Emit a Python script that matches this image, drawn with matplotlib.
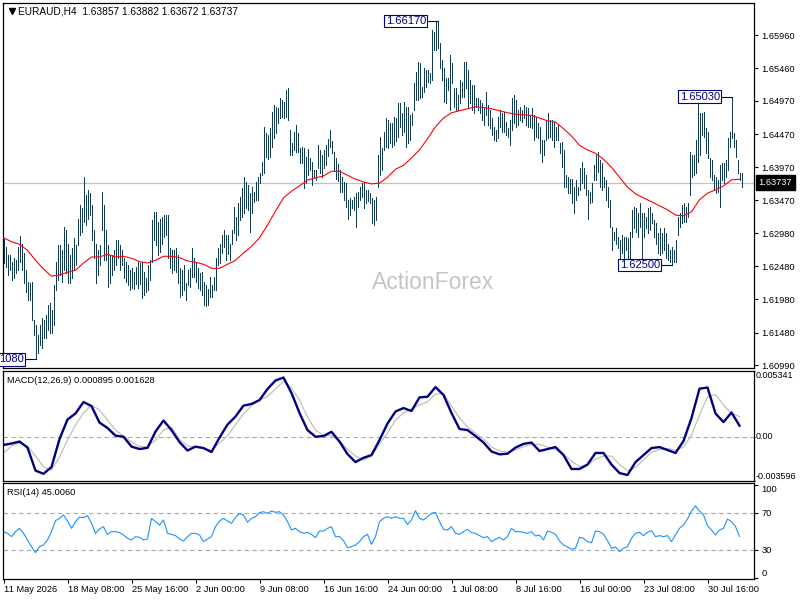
import numpy as np
import matplotlib
matplotlib.use('Agg')
import matplotlib.pyplot as plt
import matplotlib.transforms as mtransforms

plt.rcParams['font.family'] = ['Liberation Sans', 'DejaVu Sans']

# --- data ---
symbol = 'EURAUD,H4'
last_ohlc = [1.63857, 1.63882, 1.63672, 1.63737]
macd_last, signal_last, rsi_last = 0.000895, 0.001628, 45.0060

highs = [
    1.6289, 1.6277, 1.6265, 1.6265, 1.6254, 1.6260, 1.6257, 1.6277, 1.6293, 1.6282,
    1.6268, 1.6242, 1.6224, 1.6223, 1.6224, 1.6167, 1.6160, 1.6145, 1.6160, 1.6170,
    1.6167, 1.6175, 1.6190, 1.6193, 1.6182, 1.6220, 1.6254, 1.6280, 1.6280, 1.6272,
    1.6307, 1.6303, 1.6282, 1.6265, 1.6275, 1.6290, 1.6280, 1.6319, 1.6340, 1.6335,
    1.6382, 1.6355, 1.6363, 1.6358, 1.6340, 1.6303, 1.6282, 1.6272, 1.6280, 1.6360,
    1.6340, 1.6303, 1.6280, 1.6265, 1.6265, 1.6272, 1.6287, 1.6287, 1.6280, 1.6272,
    1.6260, 1.6254, 1.6250, 1.6242, 1.6245, 1.6239, 1.6247, 1.6254, 1.6253, 1.6254,
    1.6239, 1.6230, 1.6250, 1.6257, 1.6318, 1.6330, 1.6330, 1.6315, 1.6319, 1.6322,
    1.6325, 1.6325, 1.6325, 1.6275, 1.6272, 1.6272, 1.6275, 1.6265, 1.6245, 1.6242,
    1.6250, 1.6223, 1.6242, 1.6245,
    1.6275, 1.6260, 1.6253, 1.6245, 1.6238, 1.6239, 1.6224, 1.6220, 1.6214, 1.6232,
    1.6220, 1.6232, 1.6261, 1.6275, 1.6282, 1.6295, 1.6303, 1.6295, 1.6295, 1.6282,
    1.6303, 1.6337, 1.6322, 1.6343, 1.6352, 1.6366, 1.6382, 1.6375, 1.6370, 1.6358,
    1.6367, 1.6360, 1.6375, 1.6382, 1.6388, 1.6405, 1.6458, 1.6449, 1.6445, 1.6456,
    1.6480, 1.6491, 1.6488, 1.6486, 1.6501, 1.6498, 1.6495, 1.6513, 1.6516, 1.6453,
    1.6433, 1.6450, 1.6461, 1.6449, 1.6426, 1.6427, 1.6426, 1.6412, 1.6424, 1.6411,
    1.6405, 1.6393, 1.6393, 1.6430, 1.6423, 1.6415, 1.6423, 1.6430, 1.6439, 1.6453,
    1.6436, 1.6420, 1.6411, 1.6402, 1.6393, 1.6382, 1.6375, 1.6373, 1.6348, 1.6351,
    1.6348, 1.6352, 1.6358, 1.6360, 1.6367, 1.6373, 1.6375, 1.6363, 1.6363, 1.6358,
    1.6351, 1.6348, 1.6352, 1.6415,
    1.6442, 1.6426, 1.6450, 1.6471, 1.6468, 1.6464, 1.6464, 1.6473, 1.6471, 1.6494,
    1.6494, 1.6478, 1.6495, 1.6488, 1.6488, 1.6476, 1.6478, 1.6524, 1.6540, 1.6555,
    1.6554, 1.6518, 1.6546, 1.6543, 1.6543, 1.6539, 1.6604, 1.6601, 1.6617, 1.6617,
    1.6584, 1.6558, 1.6546, 1.6531, 1.6531, 1.6566, 1.6554, 1.6516, 1.6516, 1.6506,
    1.6528, 1.6525, 1.6555, 1.6555, 1.6543, 1.6528, 1.6521, 1.6521, 1.6501, 1.6501,
    1.6498, 1.6494, 1.6488, 1.6510, 1.6491, 1.6483, 1.6471, 1.6458, 1.6453, 1.6473,
    1.6483, 1.6478, 1.6480, 1.6465, 1.6456, 1.6468, 1.6501, 1.6506, 1.6498, 1.6483,
    1.6488, 1.6483, 1.6491, 1.6488, 1.6486, 1.6476, 1.6486, 1.6476, 1.6473, 1.6464,
    1.6458, 1.6438, 1.6438, 1.6468, 1.6478, 1.6468, 1.6468, 1.6465, 1.6458, 1.6461,
    1.6433, 1.6435, 1.6423, 1.6385, 1.6382, 1.6380,
    1.6380, 1.6367, 1.6378, 1.6367, 1.6396, 1.6405, 1.6396, 1.6385, 1.6363, 1.6360,
    1.6373, 1.6400, 1.6415, 1.6420, 1.6408, 1.6403, 1.6382, 1.6378, 1.6367, 1.6348,
    1.6307, 1.6299, 1.6306, 1.6292, 1.6287, 1.6295, 1.6292, 1.6292, 1.6290, 1.6299,
    1.6333, 1.6337, 1.6336, 1.6328, 1.6343, 1.6328, 1.6328, 1.6322, 1.6336, 1.6337,
    1.6328, 1.6318, 1.6313, 1.6298, 1.6306, 1.6298, 1.6306, 1.6298, 1.6282, 1.6272,
    1.6277, 1.6272, 1.6287, 1.6322, 1.6328, 1.6340, 1.6343, 1.6337, 1.6343, 1.6420,
    1.6415, 1.6415, 1.6438, 1.6494, 1.6478, 1.6478, 1.6480, 1.6456, 1.6450, 1.6411,
    1.6408, 1.6385, 1.6382, 1.6378, 1.6400, 1.6403, 1.6403, 1.6408, 1.6441, 1.6450,
    1.6503, 1.6449, 1.6438, 1.6408, 1.6388, 1.6388,
]

lows = [
    1.6253, 1.6247, 1.6235, 1.6242, 1.6227, 1.6230, 1.6238, 1.6242, 1.6254, 1.6242,
    1.6223, 1.6209, 1.6197, 1.6197, 1.6167, 1.6145, 1.6108, 1.6117, 1.6130, 1.6125,
    1.6140, 1.6140, 1.6152, 1.6147, 1.6147, 1.6160, 1.6212, 1.6227, 1.6235, 1.6224,
    1.6242, 1.6238, 1.6223, 1.6223, 1.6230, 1.6242, 1.6250, 1.6280, 1.6295, 1.6299,
    1.6315, 1.6310, 1.6319, 1.6325, 1.6287, 1.6260, 1.6223, 1.6235, 1.6250, 1.6303,
    1.6257, 1.6257, 1.6217, 1.6223, 1.6235, 1.6242, 1.6250, 1.6260, 1.6242, 1.6250,
    1.6230, 1.6224, 1.6220, 1.6212, 1.6215, 1.6214, 1.6221, 1.6215, 1.6221, 1.6200,
    1.6205, 1.6209, 1.6212, 1.6227, 1.6254, 1.6287, 1.6280, 1.6265, 1.6269, 1.6282,
    1.6292, 1.6295, 1.6261, 1.6245, 1.6238, 1.6242, 1.6239, 1.6223, 1.6202, 1.6205,
    1.6212, 1.6197, 1.6220, 1.6217,
    1.6232, 1.6232, 1.6224, 1.6215, 1.6212, 1.6205, 1.6190, 1.6188, 1.6190, 1.6202,
    1.6202, 1.6212, 1.6212, 1.6250, 1.6253, 1.6268, 1.6277, 1.6257, 1.6266, 1.6257,
    1.6282, 1.6298, 1.6287, 1.6295, 1.6318, 1.6322, 1.6328, 1.6335, 1.6333, 1.6299,
    1.6328, 1.6345, 1.6348, 1.6348, 1.6373, 1.6385, 1.6388, 1.6412, 1.6409, 1.6412,
    1.6427, 1.6441, 1.6449, 1.6464, 1.6471, 1.6473, 1.6471, 1.6473, 1.6468, 1.6415,
    1.6415, 1.6423, 1.6420, 1.6420, 1.6403, 1.6403, 1.6366, 1.6373, 1.6385, 1.6393,
    1.6370, 1.6382, 1.6378, 1.6396, 1.6388, 1.6382, 1.6396, 1.6400, 1.6414, 1.6427,
    1.6418, 1.6393, 1.6380, 1.6376, 1.6360, 1.6360, 1.6348, 1.6337, 1.6319, 1.6325,
    1.6336, 1.6333, 1.6307, 1.6337, 1.6348, 1.6352, 1.6336, 1.6343, 1.6346, 1.6343,
    1.6313, 1.6310, 1.6318, 1.6367,
    1.6385, 1.6393, 1.6423, 1.6427, 1.6426, 1.6433, 1.6427, 1.6430, 1.6436, 1.6442,
    1.6458, 1.6445, 1.6450, 1.6427, 1.6433, 1.6438, 1.6461, 1.6483, 1.6498, 1.6498,
    1.6501, 1.6503, 1.6510, 1.6518, 1.6525, 1.6524, 1.6528, 1.6574, 1.6574, 1.6577,
    1.6546, 1.6528, 1.6495, 1.6494, 1.6513, 1.6483, 1.6524, 1.6488, 1.6483, 1.6483,
    1.6494, 1.6503, 1.6503, 1.6516, 1.6488, 1.6494, 1.6483, 1.6478, 1.6488, 1.6483,
    1.6478, 1.6468, 1.6461, 1.6476, 1.6461, 1.6456, 1.6445, 1.6438, 1.6436, 1.6441,
    1.6458, 1.6450, 1.6450, 1.6445, 1.6443, 1.6430, 1.6453, 1.6464, 1.6458, 1.6461,
    1.6468, 1.6465, 1.6471, 1.6461, 1.6458, 1.6458, 1.6456, 1.6438, 1.6443, 1.6441,
    1.6418, 1.6405, 1.6415, 1.6438, 1.6441, 1.6443, 1.6438, 1.6427, 1.6438, 1.6438,
    1.6418, 1.6397, 1.6367, 1.6367, 1.6358, 1.6358,
    1.6343, 1.6328, 1.6348, 1.6355, 1.6363, 1.6373, 1.6366, 1.6355, 1.6319, 1.6343,
    1.6345, 1.6378, 1.6378, 1.6390, 1.6367, 1.6363, 1.6367, 1.6348, 1.6337, 1.6307,
    1.6272, 1.6287, 1.6282, 1.6275, 1.6257, 1.6268, 1.6261, 1.6272, 1.6261, 1.6260,
    1.6292, 1.6306, 1.6299, 1.6292, 1.6307, 1.6260, 1.6292, 1.6306, 1.6298, 1.6303,
    1.6313, 1.6292, 1.6282, 1.6268, 1.6265, 1.6268, 1.6272, 1.6261, 1.6257, 1.6254,
    1.6250, 1.6254, 1.6254, 1.6295, 1.6307, 1.6313, 1.6315, 1.6315, 1.6322, 1.6355,
    1.6382, 1.6385, 1.6388, 1.6405, 1.6415, 1.6446, 1.6443, 1.6418, 1.6411, 1.6382,
    1.6378, 1.6363, 1.6358, 1.6360, 1.6337, 1.6378, 1.6373, 1.6382, 1.6393, 1.6427,
    1.6441, 1.6427, 1.6412, 1.6388, 1.6378, 1.6367,
]

# moving average, one value every 4 bars
ma = [
    1.6291, 1.6285, 1.6281, 1.6272, 1.6257, 1.6244, 1.6233, 1.6235, 1.6239, 1.6242,
    1.6253, 1.6262, 1.6262, 1.6266, 1.6262, 1.6263, 1.6260, 1.6255, 1.6253, 1.6257,
    1.6263, 1.6263, 1.6261, 1.6256, 1.6254, 1.6251, 1.6245, 1.6245, 1.6251, 1.6257,
    1.6268, 1.6278, 1.6291, 1.6310, 1.6331, 1.6351, 1.6361, 1.6369, 1.6378, 1.6381,
    1.6384, 1.6391, 1.6391, 1.6385, 1.6379, 1.6375, 1.6372, 1.6373, 1.6382, 1.6394,
    1.6400, 1.6411, 1.6423, 1.6440, 1.6458, 1.6471, 1.6479, 1.6482, 1.6485, 1.6488,
    1.6487, 1.6485, 1.6482, 1.6479, 1.6477, 1.6476, 1.6475, 1.6471, 1.6467, 1.6465,
    1.6455, 1.6444, 1.6430, 1.6423, 1.6418, 1.6409, 1.6397, 1.6382, 1.6367, 1.6357,
    1.6351, 1.6345, 1.6339, 1.6333, 1.6325, 1.6324, 1.6330, 1.6348, 1.6358, 1.6363,
    1.6369, 1.6378, 1.6379,
]

# MACD(12,26,9), one value every 4 bars
macd = [
    -0.00067, -0.00055, -0.00039, -0.00088, -0.00275, -0.00301, -0.00246, -0.00019, 0.00140, 0.00189,
    0.00282, 0.00249, 0.00115, 0.00071, 0.00009, 0.00000, -0.00080, -0.00100, -0.00090, 0.00042,
    0.00132, 0.00054, -0.00043, -0.00112, -0.00080, -0.00092, -0.00124, -0.00007, 0.00099, 0.00164,
    0.00253, 0.00266, 0.00298, 0.00388, 0.00457, 0.00481, 0.00355, 0.00193, 0.00054, 0.00000,
    0.00006, 0.00040, -0.00039, -0.00141, -0.00206, -0.00171, -0.00149, -0.00027, 0.00107, 0.00205,
    0.00233, 0.00209, 0.00320, 0.00325, 0.00404, 0.00339, 0.00193, 0.00063, 0.00054, 0.00006,
    -0.00047, -0.00120, -0.00143, -0.00138, -0.00088, -0.00058, -0.00047, -0.00116, -0.00100, -0.00084,
    -0.00149, -0.00262, -0.00262, -0.00226, -0.00132, -0.00132, -0.00226, -0.00295, -0.00311, -0.00206,
    -0.00149, -0.00092, -0.00084, -0.00108, -0.00132, -0.00035, 0.00152, 0.00390, 0.00400, 0.00189,
    0.00119, 0.00197, 0.00090,
]
signal = [
    -0.00132, -0.00076, -0.00051, -0.00076, -0.00157, -0.00244, -0.00271, -0.00165, -0.00027, 0.00095,
    0.00193, 0.00258, 0.00217, 0.00136, 0.00054, 0.00006, -0.00043, -0.00080, -0.00081, -0.00027,
    0.00054, 0.00079, -0.00023, -0.00072, -0.00088, -0.00094, -0.00112, -0.00051, 0.00006, 0.00099,
    0.00184, 0.00253, 0.00298, 0.00327, 0.00388, 0.00449, 0.00396, 0.00298, 0.00160, 0.00054,
    0.00010, 0.00008, -0.00035, -0.00100, -0.00157, -0.00189, -0.00157, -0.00059, 0.00030, 0.00136,
    0.00193, 0.00225, 0.00258, 0.00284, 0.00347, 0.00351, 0.00249, 0.00152, 0.00079, 0.00030,
    -0.00019, -0.00084, -0.00116, -0.00124, -0.00108, -0.00080, -0.00063, -0.00062, -0.00084, -0.00104,
    -0.00143, -0.00197, -0.00242, -0.00230, -0.00181, -0.00157, -0.00157, -0.00226, -0.00275, -0.00250,
    -0.00189, -0.00128, -0.00104, -0.00096, -0.00108, -0.00084, 0.00014, 0.00176, 0.00323, 0.00343,
    0.00258, 0.00189, 0.00163,
]

# RSI(14), one value every 2 bars
rsi = [
    50.1, 48.3, 44.7, 50.1, 53.7, 48.3, 41.1, 33.9, 27.4, 33.9,
    35.7, 41.1, 50.1, 62.0, 64.5, 68.1, 61.6, 53.7, 60.9, 65.9,
    65.2, 67.4, 59.1, 48.3, 53.0, 55.5, 47.2, 50.1, 50.1, 49.0,
    46.5, 42.9, 41.1, 44.7, 44.0, 41.1, 42.2, 64.5, 60.9, 57.3,
    62.7, 48.3, 47.2, 45.8, 42.2, 40.0, 44.7, 48.3, 48.3, 46.5,
    39.3, 42.2, 44.7, 55.5, 61.6, 64.5, 61.6, 59.1, 65.6, 69.6,
    68.1, 60.2, 64.5, 66.3, 70.6, 71.7, 69.9, 72.4, 71.0, 71.7,
    68.1, 60.9, 51.9, 53.7, 50.1, 48.3, 49.4, 47.2, 43.6, 50.8,
    50.8, 53.7, 55.5, 44.7, 44.7, 40.4, 32.8, 33.9, 35.7, 39.3,
    44.7, 47.2, 36.4, 44.7, 60.9, 64.5, 66.3, 64.5, 66.3, 64.5,
    64.5, 58.0, 62.7, 72.8, 64.5, 62.7, 66.3, 69.9, 71.0, 60.9,
    52.6, 51.9, 55.5, 48.3, 47.2, 50.1, 52.6, 49.0, 48.3, 45.8,
    43.6, 44.7, 39.3, 41.8, 44.0, 41.1, 44.7, 53.7, 50.1, 50.1,
    49.4, 48.3, 50.1, 45.4, 46.5, 41.1, 50.8, 49.4, 47.2, 40.0,
    35.7, 33.5, 31.0, 32.1, 44.0, 42.9, 39.3, 38.2, 50.8, 50.1,
    47.2, 40.4, 32.1, 33.5, 28.5, 32.1, 33.9, 42.9, 48.3, 49.4,
    45.8, 49.4, 51.2, 44.7, 45.8, 44.7, 45.8, 39.3, 46.5, 53.7,
    57.3, 63.8, 72.4, 78.0, 72.4, 68.1, 56.6, 51.9, 46.5, 51.9,
    53.7, 63.8, 60.9, 55.5, 45.0,
]

price_ticks = [1.65960, 1.65460, 1.64970, 1.64470, 1.63970, 1.63470,
               1.62980, 1.62480, 1.61980, 1.61480, 1.60990]
macd_ticks = [-0.003596, 0.0, 0.005341]
macd_tick_labels = ['-0.003596', '0.00', '0.005341']
rsi_ticks = [0, 30, 70, 100]
time_labels = ['11 May 2026', '18 May 08:00', '25 May 16:00', '2 Jun 00:00',
               '9 Jun 08:00', '16 Jun 16:00', '24 Jun 00:00', '1 Jul 08:00',
               '8 Jul 16:00', '16 Jul 00:00', '23 Jul 08:00', '30 Jul 16:00']
bars_per_label = 32

# marked swing points: (bar, price, visible text); the low's box is cut by the left edge
swing_marks = [(217, 1.6617, '1.66170'), (364, 1.6503, '1.65030'),
               (334, 1.6250, '1.62500'), (16, 1.6108, '1080')]

bar_color = '#143c52'
navy = '#000080'
fs = 6.7

fig = plt.figure(figsize=(8, 6), dpi=100)
L, W = 3 / 800, 751 / 800
ax = fig.add_axes([L, 1 - 368 / 600, W, 365 / 600])
axm = fig.add_axes([L, 1 - 481 / 600, W, 110 / 600], sharex=ax)
axr = fig.add_axes([L, 1 - 579 / 600, W, 96 / 600], sharex=ax)

idx = np.arange(len(highs))

# main price panel
ax.axhline(last_ohlc[3], color='#c0c0c0', lw=0.9, zorder=1)
ax.text(0.5726, 0.233, 'ActionForex', transform=ax.transAxes, ha='center', va='center',
        fontsize=16.5, color='#c4c4c4', zorder=0)
ax.vlines(idx, lows, highs, color=bar_color, lw=0.6, antialiased=False, zorder=2)
ax.plot(np.arange(len(ma)) * 4, ma, color='red', lw=0.8, zorder=3)

for bar, price, label in swing_marks:
    ax.plot([bar - 5.5, bar], [price, price], color=navy, lw=0.8, zorder=4)
    ax.text(bar - 5.8, price, label, ha='right', va='center', fontsize=8, color=navy,
            zorder=5, bbox=dict(boxstyle='square,pad=0.12', fc='white', ec=navy, lw=0.8))

ax.text(0.02, 0.978, symbol + '  ' + ' '.join('%.5f' % v for v in last_ohlc),
        transform=ax.transAxes, va='center', ha='left', fontsize=7.3)
ax.plot([0.0115], [0.979], marker='v', ms=4, color='black', transform=ax.transAxes)

trans = mtransforms.blended_transform_factory(ax.transAxes, ax.transData)
ax.text(1.006, last_ohlc[3], '%.5f' % last_ohlc[3], transform=trans, ha='left', va='center',
        color='white', fontsize=fs, clip_on=False,
        bbox=dict(boxstyle='square,pad=0.3', fc='black', ec='black'))

ax.set_ylim(1.60949, 1.66442)
ax.set_xlim(-0.25, 375.25)
ax.yaxis.tick_right()
ax.set_yticks(price_ticks)
ax.set_yticklabels(['%.5f' % v for v in price_ticks])

# MACD panel
mx = np.arange(len(macd)) * 4
axm.axhline(0, color='#a8a8a8', lw=0.8, ls=(0, (4, 3)))
axm.plot(mx, signal, color='#c0c0c0', lw=0.9)
axm.plot(mx, macd, color=navy, lw=1.7)
axm.set_ylim(macd_ticks[0], macd_ticks[-1])
axm.yaxis.tick_right()
axm.set_yticks(macd_ticks)
axm.set_yticklabels(macd_tick_labels)
axm.text(0.0053, 0.918, 'MACD(12,26,9) %.6f %.6f' % (macd_last, signal_last),
         transform=axm.transAxes, va='center', ha='left', fontsize=fs)

# RSI panel
axr.axhline(70, color='#a8a8a8', lw=0.8, ls=(0, (4, 3)))
axr.axhline(30, color='#a8a8a8', lw=0.8, ls=(0, (4, 3)))
axr.plot(np.arange(len(rsi)) * 2, rsi, color='#1e90ff', lw=0.8)
axr.set_ylim(-1.1, 102.7)
axr.yaxis.tick_right()
axr.set_yticks(rsi_ticks)
axr.set_yticklabels([str(v) for v in rsi_ticks])
for lab, va in zip(axr.get_yticklabels(), ['bottom', 'center', 'center', 'top']):
    lab.set_va(va)
axr.text(0.0053, 0.906, 'RSI(14) %.4f' % rsi_last, transform=axr.transAxes, va='center',
         ha='left', fontsize=fs)

axr.set_xticks(np.arange(len(time_labels)) * bars_per_label)
axr.set_xticklabels(time_labels, ha='left')

for a in (ax, axm, axr):
    for s in a.spines.values():
        s.set_linewidth(0.9)
        s.set_color('black')
    a.tick_params(axis='y', length=3, width=0.8, pad=2.5, labelsize=fs)
for a in (ax, axm):
    a.tick_params(axis='x', bottom=False, labelbottom=False)
axm.tick_params(axis='y', length=1, pad=0.5, labelsize=6.5)
for lab, va in zip(axm.get_yticklabels(), ['bottom', 'center', 'top']):
    lab.set_va(va)
axr.tick_params(axis='x', length=3, width=0.8, pad=1.5, labelsize=fs)

fig.savefig('out.png', dpi=100)
